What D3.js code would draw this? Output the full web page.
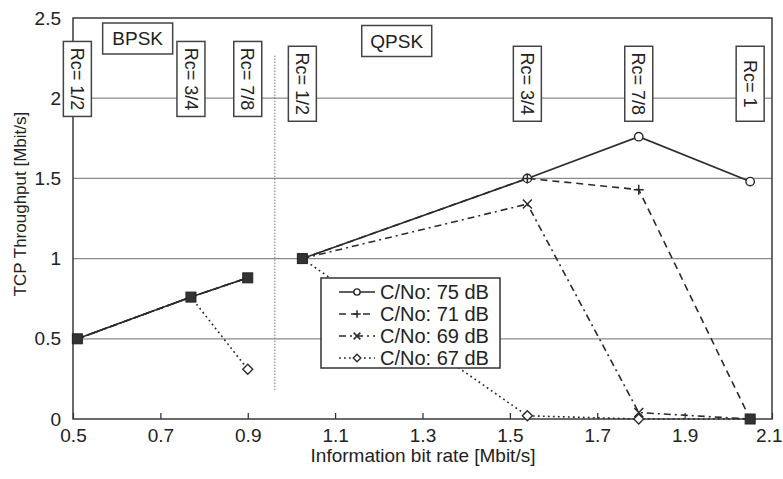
<!DOCTYPE html>
<html>
<head>
<meta charset="utf-8">
<script src="https://cdn.jsdelivr.net/npm/d3@7"></script>
<style>
  html, body { margin: 0; padding: 0; background: #fff; }
  svg { display: block; font-family: "Liberation Sans", Arial, Helvetica, sans-serif; }
</style>
</head>
<body>
<svg id="chart" width="783" height="479"></svg>
<script>
// ---------------- data ----------------
const bpskRates = [0.51, 0.77, 0.9];
const qpskRates = [1.025, 1.54, 1.795, 2.05];
const bpskCodeRates = ["Rc= 1/2", "Rc= 3/4", "Rc= 7/8"];
const qpskCodeRates = ["Rc= 1/2", "Rc= 3/4", "Rc= 7/8", "Rc= 1"];

const seriesNames = ["C/No: 75 dB", "C/No: 71 dB", "C/No: 69 dB", "C/No: 67 dB"];
const bpsk75 = [0.5, 0.76, 0.88];
const qpsk75 = [1.0, 1.5, 1.76, 1.48];
const bpsk71 = [0.5, 0.76, 0.88];
const qpsk71 = [1.0, 1.5, 1.43, 0];
const bpsk69 = [0.5, 0.76, 0.88];
const qpsk69 = [1.0, 1.34, 0.04, 0];
const bpsk67 = [0.5, 0.76, 0.31];
const qpsk67 = [1.0, 0.02, 0, 0];

const xTicks = [0.5, 0.7, 0.9, 1.1, 1.3, 1.5, 1.7, 1.9, 2.1];
const yTicks = [0, 0.5, 1, 1.5, 2, 2.5];
const yGrid = [0.5, 1, 1.5, 2];
const modulationLabels = ["BPSK", "QPSK"];
const modulationLabelX = [0.648, 1.241];
const separatorX = 0.962;
const separatorY = [0.18, 2.27];

// ---------------- setup ----------------
const ink = "#2a2a2a";
const gridCol = "#8a8a8a";
const svg = d3.select("#chart");
const W = 783, H = 479;
const m = { left: 73, right: 11, top: 18, bottom: 60 };
const x = d3.scaleLinear().domain([0.5, 2.1]).range([m.left, W - m.right]);
const y = d3.scaleLinear().domain([0, 2.5]).range([H - m.bottom, m.top]);

svg.append("rect").attr("width", W).attr("height", H).attr("fill", "#fff");

// grid lines
svg.append("g").selectAll("line").data(yGrid).join("line")
  .attr("x1", x(0.5)).attr("x2", x(2.1))
  .attr("y1", d => y(d)).attr("y2", d => y(d))
  .attr("stroke", gridCol).attr("stroke-width", 1.2);

// separator
svg.append("line")
  .attr("x1", x(separatorX)).attr("x2", x(separatorX))
  .attr("y1", y(separatorY[0])).attr("y2", y(separatorY[1]))
  .attr("stroke", "#777").attr("stroke-width", 1).attr("stroke-dasharray", "1.5,1.5");

// axes
const xAxis = svg.append("g").attr("transform", `translate(0,${y(0)})`)
  .call(d3.axisBottom(x).tickValues(xTicks).tickSize(-6).tickPadding(10).tickFormat(d => String(d)));
xAxis.select(".domain").remove();
xAxis.selectAll("line").attr("stroke", ink).attr("stroke-width", 1.2);
xAxis.selectAll("text").attr("font-size", 19).attr("fill", "#222").attr("font-family", "Liberation Sans, Arial, sans-serif");
// keep the last label inside the window
xAxis.selectAll(".tick").filter(d => d === xTicks[xTicks.length - 1]).select("text")
  .attr("text-anchor", "end").attr("x", W - 1 - x(xTicks[xTicks.length - 1]));

const yAxis = svg.append("g").attr("transform", `translate(${x(0.5)},0)`)
  .call(d3.axisLeft(y).tickValues(yTicks).tickSize(0).tickPadding(12).tickFormat(d => String(d)));
yAxis.select(".domain").remove();
yAxis.selectAll("text").attr("font-size", 19).attr("fill", "#222").attr("font-family", "Liberation Sans, Arial, sans-serif");

// frame
svg.append("rect")
  .attr("x", x(0.5)).attr("y", y(2.5))
  .attr("width", x(2.1) - x(0.5)).attr("height", y(0) - y(2.5))
  .attr("fill", "none").attr("stroke", "#3a3a3a").attr("stroke-width", 1.5);

// axis titles
svg.append("text").attr("x", 423).attr("y", 462).attr("text-anchor", "middle")
  .attr("font-size", 19).attr("fill", "#222").text("Information bit rate [Mbit/s]");
svg.append("text").attr("transform", `translate(26,${y(1.34)}) rotate(-90)`).attr("text-anchor", "middle")
  .attr("font-size", 17).attr("fill", "#222").text("TCP Throughput [Mbit/s]");

// code-rate boxes
const rcData = bpskRates.map((r, i) => ({ r, t: bpskCodeRates[i], yc: 2.12 }))
  .concat(qpskRates.map((r, i) => ({ r, t: qpskCodeRates[i], yc: 2.09 })));
const rcG = svg.append("g").selectAll("g").data(rcData).join("g")
  .attr("transform", d => `translate(${x(d.r)},${y(d.yc)})`);
rcG.append("rect").attr("x", -14).attr("y", -37.5).attr("width", 28).attr("height", 75)
  .attr("fill", "#fff").attr("stroke", "#444").attr("stroke-width", 1.5);
rcG.append("text").attr("transform", "rotate(90)").attr("text-anchor", "middle").attr("dy", "0.35em")
  .attr("font-size", 18).attr("fill", "#222").text(d => d.t);

// modulation labels
const modG = svg.append("g").selectAll("g").data(modulationLabels).join("g")
  .attr("transform", (d, i) => `translate(${x(modulationLabelX[i])},${i === 0 ? 38.5 : 41})`);
modG.append("rect").attr("x", -35).attr("y", -15.5).attr("width", 70).attr("height", 31)
  .attr("fill", "#fff").attr("stroke", "#444").attr("stroke-width", 1.5);
modG.append("text").attr("text-anchor", "middle").attr("dy", "0.36em")
  .attr("font-size", 19).attr("fill", "#222").text(d => d);

// series
const styles = [
  { dash: null, marker: "circle" },
  { dash: "7,5", marker: "plus" },
  { dash: "7,4,2,4", marker: "cross" },
  { dash: "1.8,3.2", marker: "diamond" }
];
const bpskVals = [bpsk75, bpsk71, bpsk69, bpsk67];
const qpskVals = [qpsk75, qpsk71, qpsk69, qpsk67];
const series = seriesNames.map((name, i) => ({
  name, style: styles[i],
  segs: [
    bpskRates.map((r, j) => [r, bpskVals[i][j]]),
    qpskRates.map((r, j) => [r, qpskVals[i][j]])
  ]
}));

const line = d3.line().x(d => x(d[0])).y(d => y(d[1]));
const lg = svg.append("g");
series.slice().reverse().forEach(s => {
  s.segs.forEach(seg => {
    lg.append("path").attr("d", line(seg)).attr("fill", "none")
      .attr("stroke", ink).attr("stroke-width", 1.6)
      .attr("stroke-dasharray", s.style.dash);
  });
});

function drawMarker(g, type, cx, cy, s) {
  const k = s || 1;
  if (type === "circle") {
    g.append("circle").attr("cx", cx).attr("cy", cy).attr("r", 4.2 * k)
      .attr("fill", "#fff").attr("stroke", ink).attr("stroke-width", 1.4);
  } else if (type === "plus") {
    g.append("path").attr("d", `M${cx - 5 * k},${cy}H${cx + 5 * k}M${cx},${cy - 5 * k}V${cy + 5 * k}`)
      .attr("stroke", ink).attr("stroke-width", 1.5);
  } else if (type === "cross") {
    g.append("path").attr("d", `M${cx - 4.5 * k},${cy - 4.5 * k}L${cx + 4.5 * k},${cy + 4.5 * k}M${cx - 4.5 * k},${cy + 4.5 * k}L${cx + 4.5 * k},${cy - 4.5 * k}`)
      .attr("stroke", ink).attr("stroke-width", 1.5);
  } else if (type === "diamond") {
    const r = 5 * k;
    g.append("path").attr("d", `M${cx},${cy - r}L${cx + r},${cy}L${cx},${cy + r}L${cx - r},${cy}Z`)
      .attr("fill", "#fff").attr("stroke", ink).attr("stroke-width", 1.4);
  }
}

// markers: where 3+ series coincide, the overlap reads as a filled block
const pts = new Map();
series.forEach((s, i) => s.segs.forEach(seg => seg.forEach(p => {
  const key = p[0] + "|" + p[1];
  if (!pts.has(key)) pts.set(key, { p, idx: [] });
  pts.get(key).idx.push(i);
})));
const mg = svg.append("g");
pts.forEach(({ p, idx }) => {
  const cx = x(p[0]), cy = y(p[1]);
  if (idx.length >= 3) {
    mg.append("rect").attr("x", cx - 5).attr("y", cy - 5).attr("width", 10).attr("height", 10)
      .attr("fill", "#333").attr("stroke", "#222").attr("stroke-width", 1);
  } else {
    idx.forEach(i => drawMarker(mg, series[i].style.marker, cx, cy));
  }
});

// legend
const legX = 321, legY = 278, legW = 179, legH = 90;
const leg = svg.append("g");
leg.append("rect").attr("x", legX).attr("y", legY).attr("width", legW).attr("height", legH)
  .attr("fill", "#fff").attr("stroke", "#333").attr("stroke-width", 1.5);
series.forEach((s, i) => {
  const ly = legY + 14 + i * 22;
  leg.append("line").attr("x1", legX + 18).attr("x2", legX + 54).attr("y1", ly).attr("y2", ly)
    .attr("stroke", ink).attr("stroke-width", 1.5).attr("stroke-dasharray", s.style.dash);
  drawMarker(leg, s.style.marker, legX + 36, ly, 0.75);
  leg.append("text").attr("x", legX + 59).attr("y", ly).attr("dy", "0.36em")
    .attr("font-size", 20).attr("fill", "#222").text(s.name);
});
</script>
</body>
</html>
